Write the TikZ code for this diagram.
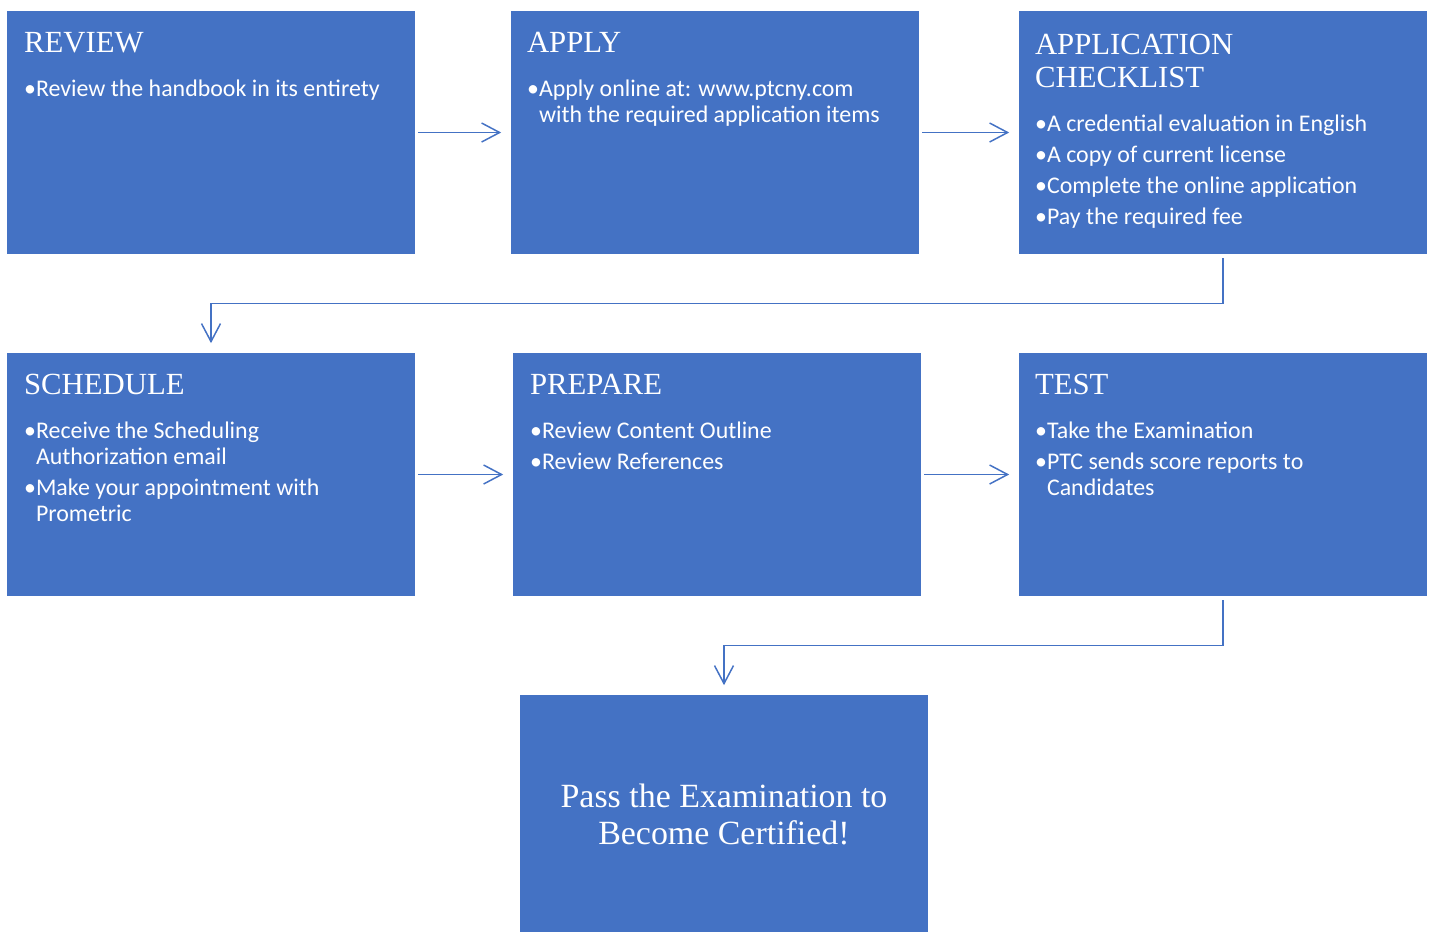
\documentclass[tikz,border=0pt]{standalone}
\usepackage{fontspec}
\usepackage{tikz}
\usetikzlibrary{arrows.meta}
\setmainfont{Carlito}
\newfontfamily\titlefont{Liberation Serif}
\definecolor{boxblue}{HTML}{4472C4}

\newcommand{\stagetitle}[1]{{\titlefont\fontsize{17.5}{18.7}\selectfont #1\par}\vspace{7.3pt}}
\newcommand{\point}[1]{\par\vspace{2.9pt}\hangindent=0.24cm\hangafter=1\noindent\makebox[0.24cm][l]{\textbullet}#1}

\tikzset{
	stage/.style={rectangle, fill=boxblue, minimum width=8.16cm, minimum height=4.86cm, inner sep=0pt},
	stagetext/.style={anchor=base west, inner sep=0pt, text=white},
	flow/.style={draw=boxblue, line width=0.85pt, -{Straight Barb[length=0.36cm,width=0.38cm]}, shorten <=0.06cm, shorten >=0.19cm}
}

\begin{document}
\begin{tikzpicture}[x=0.02cm, y=-0.02cm]
		\useasboundingbox (0,0) rectangle (1430,931);

		\node[stage] (review) at (211,132.5) {};
		\node[stage] (apply) at (715,132.5) {};
		\node[stage] (checklist) at (1223,132.5) {};
		\node[stage] (schedule) at (211,474.5) {};
		\node[stage] (prepare) at (717,474.5) {};
		\node[stage] (test) at (1223,474.5) {};
		\node[stage] (certified) at (724,816.5) {};

		\node[stagetext] (reviewtxt) at ([shift={(0.34cm,-0.84cm)}]review.north west)
		{\parbox[t]{7.5cm}{\raggedright\fontsize{13.6}{14.7}\selectfont
			\stagetitle{REVIEW}
			\point{Review the handbook in its entirety}}};
		\node[stagetext] (applytxt) at ([shift={(0.32cm,-0.84cm)}]apply.north west)
		{\parbox[t]{7.5cm}{\raggedright\fontsize{13.6}{14.7}\selectfont
			\stagetitle{APPLY}
			\point{Apply online at: www.ptcny.com\newline with the required application items}}};
		\node[stagetext] (checklisttxt) at ([shift={(0.32cm,-0.88cm)}]checklist.north west)
		{\parbox[t]{7.5cm}{\raggedright\fontsize{13.6}{14.7}\selectfont
			\stagetitle{APPLICATION\\CHECKLIST}
			\point{A credential evaluation in English}
			\point{A copy of current license}
			\point{Complete the online application}
			\point{Pay the required fee}}};
		\node[stagetext] (scheduletxt) at ([shift={(0.34cm,-0.84cm)}]schedule.north west)
		{\parbox[t]{7.5cm}{\raggedright\fontsize{13.6}{14.7}\selectfont
			\stagetitle{SCHEDULE}
			\point{Receive the Scheduling\newline Authorization email}
			\point{Make your appointment with\newline Prometric}}};
		\node[stagetext] (preparetxt) at ([shift={(0.34cm,-0.84cm)}]prepare.north west)
		{\parbox[t]{7.5cm}{\raggedright\fontsize{13.6}{14.7}\selectfont
			\stagetitle{PREPARE}
			\point{Review Content Outline}
			\point{Review References}}};
		\node[stagetext] (testtxt) at ([shift={(0.32cm,-0.84cm)}]test.north west)
		{\parbox[t]{7.5cm}{\raggedright\fontsize{13.6}{14.7}\selectfont
			\stagetitle{TEST}
			\point{Take the Examination}
			\point{PTC sends score reports to\newline Candidates}}};
		\node[text=white, align=center, font=\titlefont\fontsize{19.3}{20.6}\selectfont] (certifiedtxt) at ([yshift=0.04cm]certified.center)
		{Pass the Examination to\\Become Certified!};

		\draw[flow] (review) -- (apply);
		\draw[flow] (apply) -- (checklist);
		\draw[flow] (schedule) -- (prepare);
		\draw[flow] (prepare) -- (test);
		\draw[flow, shorten <=0.08cm] (checklist.south) -- ++(0,49) -| (schedule.north);
		\draw[flow, shorten <=0.08cm] (test.south) -- ++(0,49) -| (certified.north);
	\end{tikzpicture}
\end{document}
